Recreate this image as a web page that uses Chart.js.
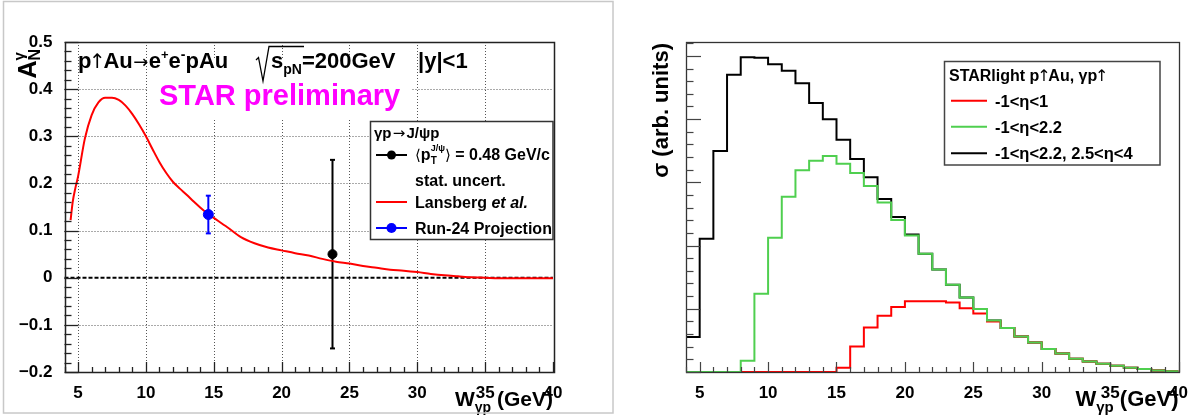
<!DOCTYPE html>
<html><head><meta charset="utf-8">
<script src="https://cdn.jsdelivr.net/npm/chart.js@4.4.1/dist/chart.umd.min.js"></script>
<style>
html,body{margin:0;padding:0;background:#fff;}
#wrap{position:relative;width:1191px;height:420px;overflow:hidden;background:#fff;}
#c1{position:absolute;left:0;top:0;}
#c2{position:absolute;left:614px;top:0;}
</style></head><body>
<div id="wrap"><canvas id="c1" width="614" height="420"></canvas><canvas id="c2" width="577" height="420"></canvas></div>
<script>
// ---------------- data (left panel) ----------------
const curveW = [4.45,4.6,4.8,5.0,5.5,6.0,6.5,7.0,7.5,8.0,8.5,9.0,9.5,10.0,10.5,11.0,11.5,12.0,12.5,13.0,13.5,14.0,14.5,15.0,16.0,17.0,18.0,19.0,20.0,21.0,22.0,23.0,24.0,25.0,26.0,27.0,28.0,29.0,30.0,31.0,32.0,33.0,34.0,35.0,36.0,38.0,40.0];
const curveA = [0.122,0.16,0.19,0.215,0.295,0.345,0.372,0.382,0.382,0.377,0.365,0.347,0.325,0.300,0.272,0.245,0.222,0.203,0.189,0.176,0.162,0.149,0.137,0.127,0.107,0.086,0.073,0.064,0.058,0.052,0.047,0.040,0.034,0.030,0.025,0.021,0.017,0.015,0.012,0.008,0.005,0.003,0.001,0.000,-0.001,-0.001,-0.001];
const dataW = [23.75];
const dataA = [0.05];
const dataErr = [0.20];
const projW = [14.6];
const projA = [0.134];
const projErr = [0.04];
const xTickValues = [5,10,15,20,25,30,35,40];
const xTickLabels = ['5','10','15','20','25','30','35','40'];
const yTickValues = [-0.2,-0.1,0,0.1,0.2,0.3,0.4,0.5];
const yTickLabels = ['\u22120.2','\u22120.1','0','0.1','0.2','0.3','0.4','0.5'];
// ---------------- data (right panel) ----------------
const binLowEdges = [4,5,6,7,8,9,10,11,12,13,14,15,16,17,18,19,20,21,22,23,24,25,26,27,28,29,30,31,32,33,34,35,36,37,38,39];
const binHighEdge = 40;
const sigmaFull = [0.553,2.106,3.496,4.70,4.98,4.97,4.87,4.765,4.566,4.254,4.0,3.675,3.37,3.08,2.738,2.453,2.174,1.869,1.621,1.379,1.179,0.995,0.815,0.695,0.562,0.468,0.363,0.294,0.21,0.167,0.131,0.1,0.068,0.047,0.025,0.01];
const sigmaWide = [0,0,0,0,0.178,1.237,2.122,2.774,3.19,3.343,3.417,3.296,3.148,2.943,2.68,2.406,2.158,1.869,1.621,1.379,1.179,0.995,0.815,0.695,0.562,0.468,0.363,0.294,0.21,0.167,0.131,0.1,0.068,0.047,0.025,0.01];
const sigmaCentral = [0,0,0,0,0,0,0,0,0,0,0,0.068,0.405,0.705,0.889,1.03,1.12,1.12,1.12,1.10,1.01,0.926,0.80,0.695,0.562,0.468,0.363,0.294,0.21,0.167,0.131,0.1,0.068,0.047,0.025,0.01];

// ---------------- helpers ----------------
const FF = '"Liberation Sans", "DejaVu Sans", Arial, sans-serif';
const FA = '"DejaVu Sans", sans-serif';
Chart.defaults.font.family = FF;
Chart.defaults.color = '#000';
function fnt(size, weight, style, fam){ return (style||'normal')+' '+(weight||'bold')+' '+size+'px '+(fam||FF); }
function near(a,b){ return Math.abs(a-b)<1e-6; }
function lookup(vals, labels, v){ for(let i=0;i<vals.length;i++){ if(near(vals[i],v)) return labels[i]; } return ''; }
function hist(vals){ const d = binLowEdges.map((e,i)=>({x:e,y:vals[i]})); d.push({x:binHighEdge,y:vals[vals.length-1]}); return d; }
function line(ctx,x1,y1,x2,y2){ ctx.beginPath(); ctx.moveTo(x1,y1); ctx.lineTo(x2,y2); ctx.stroke(); }
function layoutRich(ctx, parts){
  let x=0, maxX=0, prevStart=0; const items=[];
  for(const p of parts){
    ctx.font = fnt(p.s, p.w, p.st, p.f);
    const w = (p.adv!==undefined) ? p.adv : ctx.measureText(p.t).width;
    const sx = p.stack ? prevStart : x;
    items.push({p:p, sx:sx});
    x = p.stack ? Math.max(x, sx+w) : sx+w;
    prevStart = sx;
    maxX = Math.max(maxX, x);
  }
  return {items:items, width:maxX};
}
function drawRich(ctx, parts, x, y, align){
  const L = layoutRich(ctx, parts);
  let x0 = x;
  if(align==='right') x0 = x - L.width;
  if(align==='center') x0 = x - L.width/2;
  ctx.textAlign='left'; ctx.textBaseline='alphabetic';
  for(const it of L.items){
    ctx.font = fnt(it.p.s, it.p.w, it.p.st, it.p.f);
    ctx.fillStyle = it.p.c || '#000';
    ctx.fillText(it.p.t, x0+it.sx+(it.p.dx||0), y+(it.p.dy||0));
  }
  return L.width;
}
function ticksDraw(ctx, a, xs, ys, o){
  ctx.strokeStyle=o.color; ctx.lineWidth=o.lw;
  for(let i=0;i<=o.xN;i++){
    const v = o.x0 + i*o.xStep;
    const r = v/o.xMajor;
    const major = Math.abs(r-Math.round(r))<1e-6;
    const px = Math.round(xs.getPixelForValue(v))+0.5;
    line(ctx, px, a.bottom, px, a.bottom-(major?o.xMajL:o.xMinL));
  }
  for(let i=0;i<=o.yN;i++){
    const v = o.y0 + i*o.yStep;
    const r = v/o.yMajor;
    const major = Math.abs(r-Math.round(r))<1e-6;
    const py = Math.round(ys.getPixelForValue(v))+0.5;
    line(ctx, a.left, py, a.left+(major?o.yMajL:o.yMinL), py);
  }
}
function errBar(ctx, xs, ys, w, v, e, col){
  const px = xs.getPixelForValue(w);
  const t = ys.getPixelForValue(v+e), b = ys.getPixelForValue(v-e);
  ctx.strokeStyle=col; ctx.lineWidth=2;
  line(ctx, px, t, px, b);
  line(ctx, px-2.5, t, px+2.5, t);
  line(ctx, px-2.5, b, px+2.5, b);
}
function up(s, adv){ return {t:'\u2191', s:s, w:'normal', f:FA, adv:adv, dx:-(s*0.838-adv)/2}; }
function rarr(s, adv){ return {t:'\u2192', s:s, w:'normal', f:FA, adv:adv, dx:-(s*0.838-adv)/2}; }

// ---------------- left panel ----------------
const leftDeco = {
  id:'leftDeco',
  beforeDatasetsDraw(chart){
    const ctx=chart.ctx, a=chart.chartArea, x=chart.scales.x, y=chart.scales.y;
    ctx.save();
    ctx.strokeStyle='#555'; ctx.lineWidth=1; ctx.setLineDash([1,2]);
    for(const v of [5,10,15,20,25,30,35]){ const px=Math.round(x.getPixelForValue(v))+0.5; line(ctx,px,a.top,px,a.bottom); }
    for(const v of [-0.1,0.1,0.2,0.3,0.4]){ const py=Math.round(y.getPixelForValue(v))+0.5; line(ctx,a.left,py,a.right,py); }
    ctx.setLineDash([]);
    ctx.fillStyle='#fff'; ctx.fillRect(148,58,264,60);
    ctx.strokeStyle='#000'; ctx.lineWidth=2; ctx.setLineDash([4,2]);
    const y0=y.getPixelForValue(0); line(ctx,a.left,y0,a.right,y0);
    ctx.setLineDash([]);
    // title
    drawRich(ctx,[{t:'p',s:22},up(20,12),{t:'Au',s:22},rarr(18,16),{t:'e',s:22},{t:'+',s:13,dy:-9},{t:'e',s:22},{t:'-',s:14,dy:-9},{t:'pAu',s:22}],78,68,'left');
    ctx.strokeStyle='#000'; ctx.lineWidth=1.3;
    ctx.beginPath(); ctx.moveTo(256,60); ctx.lineTo(258.5,57.5); ctx.lineTo(263,81); ctx.lineTo(269,46.5); ctx.lineTo(304,46.5); ctx.stroke();
    drawRich(ctx,[{t:'s',s:22},{t:'pN',s:14,dy:6},{t:'=200GeV',s:22}],271,68,'left');
    drawRich(ctx,[{t:'|y|<1',s:22}],418,68,'left');
    drawRich(ctx,[{t:'STAR preliminary',s:29,c:'#ff00ff'}],159,105,'left');
    for(let i=0;i<dataW.length;i++) errBar(ctx,x,y,dataW[i],dataA[i],dataErr[i],'#000');
    for(let i=0;i<projW.length;i++) errBar(ctx,x,y,projW[i],projA[i],projErr[i],'#0000ff');
    ctx.restore();
  },
  afterDatasetsDraw(chart){
    const ctx=chart.ctx, a=chart.chartArea, x=chart.scales.x, y=chart.scales.y;
    ctx.save();
    ctx.strokeStyle='#222'; ctx.lineWidth=1.5;
    ctx.strokeRect(Math.round(a.left)+0.5, Math.round(a.top)+0.5, Math.round(a.right-a.left), Math.round(a.bottom-a.top));
    ticksDraw(ctx,a,x,y,{color:'#222',lw:1.3,x0:4,xStep:1,xN:36,xMajor:5,xMajL:10,xMinL:5,y0:-0.2,yStep:0.02,yN:35,yMajor:0.1,yMajL:14,yMinL:7});
    // legend
    ctx.fillStyle='#fff'; ctx.fillRect(370,121,183,118);
    ctx.strokeStyle='#333'; ctx.lineWidth=1.5; ctx.strokeRect(370.5,121.5,182.5,118);
    drawRich(ctx,[{t:'\u03b3p',s:15},rarr(15,15),{t:'J/\u03c8p',s:15}],374,138,'left');
    ctx.strokeStyle='#000'; ctx.lineWidth=2; line(ctx,376,155,407,155);
    ctx.fillStyle='#000'; ctx.beginPath(); ctx.arc(391.5,155,4.5,0,Math.PI*2); ctx.fill();
    drawRich(ctx,[{t:'\u27e8',s:15,w:'normal',f:FA},{t:'p',s:16},{t:'T',s:10,dy:4},{t:'J/\u03c8',s:9,dy:-9,stack:true},{t:'\u27e9',s:15,w:'normal',f:FA},{t:' = 0.48 GeV/c',s:16}],415,160,'left');
    drawRich(ctx,[{t:'stat. uncert.',s:16}],415,186,'left');
    ctx.strokeStyle='#ff0000'; ctx.lineWidth=2; line(ctx,376,202,407,202);
    drawRich(ctx,[{t:'Lansberg ',s:16},{t:'et al.',s:16,st:'italic'}],415,208,'left');
    ctx.strokeStyle='#0000ff'; ctx.lineWidth=2; line(ctx,376,228,407,228);
    ctx.fillStyle='#0000ff'; ctx.beginPath(); ctx.arc(391.5,228,5,0,Math.PI*2); ctx.fill();
    drawRich(ctx,[{t:'Run-24 Projection',s:16}],415,234,'left');
    // axis titles
    drawRich(ctx,[{t:'W',s:21},{t:'\u03b3p',s:14,dy:6},{t:' (GeV)',s:21}],a.right,406,'right');
    ctx.save(); ctx.translate(36,49); ctx.rotate(-Math.PI/2);
    drawRich(ctx,[{t:'A',s:25},{t:'N',s:16,dy:4},{t:'\u03b3',s:15,dy:-12,stack:true}],0,0,'right');
    ctx.restore();
    ctx.strokeStyle='#c8c8c8'; ctx.lineWidth=1.5; ctx.strokeRect(3.5,1.5,609.5,411.5);
    ctx.restore();
  }
};

new Chart(document.getElementById('c1'), {
  type:'line',
  data:{datasets:[
    {type:'scatter', label:'Run-24 Projection', data: projW.map((w,i)=>({x:w,y:projA[i]})), pointRadius:5, pointBackgroundColor:'#0000ff', pointBorderColor:'#0000ff', showLine:false},
    {type:'scatter', label:'data', data: dataW.map((w,i)=>({x:w,y:dataA[i]})), pointRadius:4.5, pointBackgroundColor:'#000', pointBorderColor:'#000', showLine:false},
    {type:'line', label:'Lansberg et al.', data: curveW.map((w,i)=>({x:w,y:curveA[i]})), borderColor:'#ff0000', borderWidth:2, pointRadius:0, cubicInterpolationMode:'monotone', fill:false}
  ]},
  options:{
    responsive:false, animation:false, devicePixelRatio:1,
    layout:{padding:{left:0,right:61,top:42,bottom:0}},
    plugins:{legend:{display:false}, tooltip:{enabled:false}},
    scales:{
      x:{type:'linear', min:4, max:40, afterFit(s){ s.height=48; },
         ticks:{stepSize:1, autoSkip:false, maxRotation:0, minRotation:0, padding:3, color:'#000', font:{size:17,weight:'bold'}, callback:(v)=>lookup(xTickValues,xTickLabels,v)},
         grid:{display:false}, border:{display:false}},
      y:{type:'linear', min:-0.2, max:0.5, afterFit(s){ s.width=64.5; },
         ticks:{stepSize:0.1, autoSkip:false, padding:4, color:'#000', font:{size:17,weight:'bold'}, callback:(v)=>lookup(yTickValues,yTickLabels,v)},
         grid:{display:false}, border:{display:false}}
    }
  },
  plugins:[leftDeco]
});

// ---------------- right panel ----------------
const rightDeco = {
  id:'rightDeco',
  afterDatasetsDraw(chart){
    const ctx=chart.ctx, a=chart.chartArea, x=chart.scales.x, y=chart.scales.y;
    ctx.save();
    ctx.strokeStyle='#333'; ctx.lineWidth=1.3;
    ctx.strokeRect(Math.round(a.left)+0.5, Math.round(a.top)+0.5, Math.round(a.right-a.left), Math.round(a.bottom-a.top));
    ticksDraw(ctx,a,x,y,{color:'#444',lw:1.2,x0:4,xStep:1,xN:36,xMajor:5,xMajL:10,xMinL:5,y0:0,yStep:0.2,yN:26,yMajor:1,yMajL:15,yMinL:7.5});
    ctx.fillStyle='#fff'; ctx.fillRect(330,61,216,104);
    ctx.strokeStyle='#444'; ctx.lineWidth=1.5; ctx.strokeRect(330.5,61.5,215.5,103.5);
    drawRich(ctx,[{t:'STARlight p',s:16},up(16,9),{t:'Au, \u03b3p',s:16},up(16,9)],335,81,'left');
    const rows=[['#ff0000','-1<\u03b7<1',100.7],['#4fcf4f','-1<\u03b7<2.2',126.7],['#000000','-1<\u03b7<2.2, 2.5<\u03b7<4',153.3]];
    for(const r of rows){ ctx.strokeStyle=r[0]; ctx.lineWidth=2; line(ctx,337,r[2],373,r[2]); drawRich(ctx,[{t:r[1],s:16.5}],381,r[2]+6,'left'); }
    drawRich(ctx,[{t:'W',s:22},{t:'\u03b3p',s:15,dy:6},{t:' (GeV)',s:22}],a.right,406,'right');
    ctx.save(); ctx.translate(54,43); ctx.rotate(-Math.PI/2);
    drawRich(ctx,[{t:'\u03c3 (arb. units)',s:22}],0,0,'right');
    ctx.restore();
    ctx.restore();
  }
};

new Chart(document.getElementById('c2'), {
  type:'line',
  data:{datasets:[
    {label:'-1<\u03b7<2.2', data: hist(sigmaWide), borderColor:'#4fcf4f', borderWidth:2, pointRadius:0, stepped:true, fill:false},
    {label:'-1<\u03b7<1', data: hist(sigmaCentral), borderColor:'#ff0000', borderWidth:2, pointRadius:0, stepped:true, fill:false},
    {label:'-1<\u03b7<2.2, 2.5<\u03b7<4', data: hist(sigmaFull), borderColor:'#000000', borderWidth:2, pointRadius:0, stepped:true, fill:false}
  ]},
  options:{
    responsive:false, animation:false, devicePixelRatio:1,
    layout:{padding:{left:0,right:12,top:42,bottom:0}},
    plugins:{legend:{display:false}, tooltip:{enabled:false}},
    scales:{
      x:{type:'linear', min:4, max:40, afterFit(s){ s.height=48; },
         ticks:{stepSize:1, autoSkip:false, maxRotation:0, minRotation:0, padding:3, color:'#000', font:{size:17,weight:'bold'}, callback:(v)=>lookup(xTickValues,xTickLabels,v)},
         grid:{display:false}, border:{display:false}},
      y:{type:'linear', min:0, max:5.22, afterFit(s){ s.width=72; },
         ticks:{display:false, stepSize:1},
         grid:{display:false}, border:{display:false}}
    }
  },
  plugins:[rightDeco]
});
</script>
</body></html>
